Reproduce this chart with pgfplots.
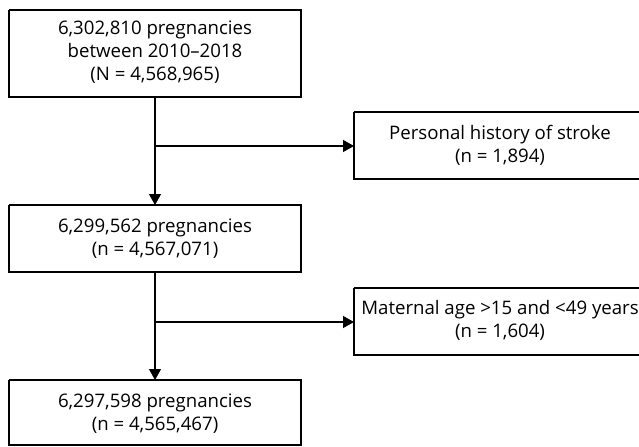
\documentclass[border=0pt]{standalone}
\usepackage{pgfplots}
\pgfplotsset{compat=1.18}
\usepackage{fontspec}
\setmainfont{Open Sans}
\usetikzlibrary{arrows.meta}
\begin{document}
\begin{tikzpicture}
\begin{axis}[
  width=639bp, height=447bp, scale only axis,
  xmin=0, xmax=639, ymin=0, ymax=447, y dir=reverse,
  hide axis, clip=false,
]
\pgfplotsset{ln/.style={black, line width=1.2bp, mark=none, solid}}
% boxes
\addplot[ln] coordinates {(9,10) (301,10) (301,97) (9,97) (9,10)};
\addplot[ln] coordinates {(9,205) (301,205) (301,272) (9,272) (9,205)};
\addplot[ln] coordinates {(9,380) (301,380) (301,445) (9,445) (9,380)};
\addplot[ln] coordinates {(354,112) (645,112) (645,179) (354,179) (354,112)};
\addplot[ln] coordinates {(354,288) (645,288) (645,355) (354,355) (354,288)};
% vertical arrows
\addplot[ln, -{Triangle[length=11bp,width=12bp]}] coordinates {(155,97) (155,205)};
\addplot[ln, -{Triangle[length=11bp,width=12bp]}] coordinates {(155,272) (155,380)};
% horizontal arrows
\addplot[ln, -{Triangle[length=11bp,width=12bp]}] coordinates {(155,146) (354,146)};
\addplot[ln, -{Triangle[length=11bp,width=12bp]}] coordinates {(155,322) (354,322)};
% texts
\tikzset{t/.style={font=\fontsize{18.7}{23}\selectfont, align=center, inner sep=0pt, text=black}}
\node[t] at (axis cs:155,52) {6,302,810 pregnancies\\between 2010–2018\\(N = 4,568,965)};
\node[t] at (axis cs:155,239) {6,299,562 pregnancies\\(n = 4,567,071)};
\node[t] at (axis cs:155,414) {6,297,598 pregnancies\\(n = 4,565,467)};
\node[t] at (axis cs:500,145) {Personal history of stroke\\(n = 1,894)};
\node[t] at (axis cs:500,320) {Maternal age >15 and <49 years\\(n = 1,604)};
\end{axis}
\pgfresetboundingbox
\path (current axis.south west) rectangle (current axis.north east);
\end{tikzpicture}
\end{document}
